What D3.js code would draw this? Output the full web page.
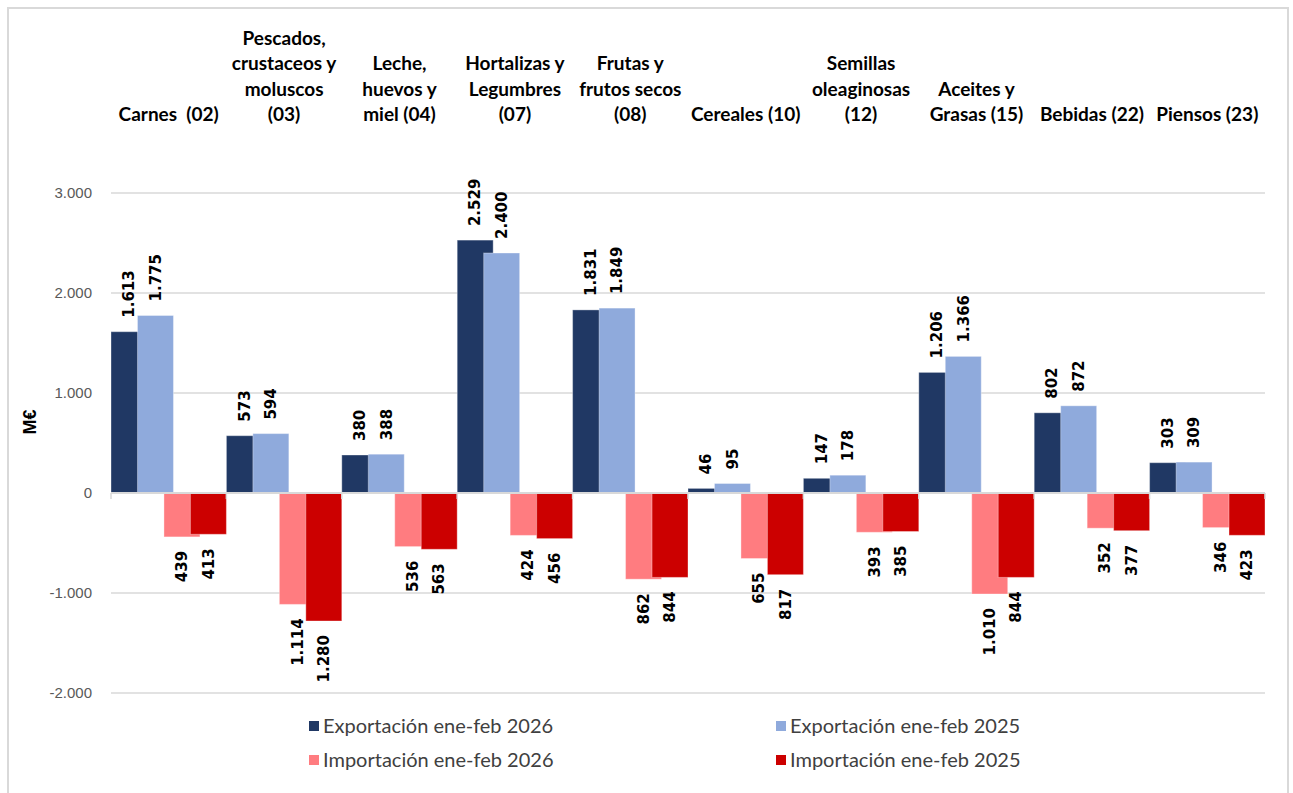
<!DOCTYPE html>
<html>
<head>
<meta charset="utf-8">
<style>
    body { margin: 0; background: #fff; }
    .cat text { font: bold 19px Lato; fill: #000; text-anchor: middle; white-space: pre; }
    .val { font: bold 15px "DejaVu Sans"; fill: #000; }
    .ytick { font: 15px "Liberation Sans"; fill: #595959; text-anchor: end; }
    .legend text { font: 20px Lato; fill: #404040; }
</style>
<script src="https://d3js.org/d3.v7.min.js"></script>
</head>
<body>
<svg width="1293" height="793"></svg>
<script>
    // categories (each one is a list of lines)
    var categories = [
        ["Carnes  (02)"],
        ["Pescados,", "crustaceos y", "moluscos", "(03)"],
        ["Leche,", "huevos y", "miel (04)"],
        ["Hortalizas y", "Legumbres", "(07)"],
        ["Frutas y", "frutos secos", "(08)"],
        ["Cereales (10)"],
        ["Semillas", "oleaginosas", "(12)"],
        ["Aceites y", "Grasas (15)"],
        ["Bebidas (22)"],
        ["Piensos (23)"]
    ];
    var exp2026 = [1613, 573, 380, 2529, 1831, 46, 147, 1206, 802, 303];
    var exp2025 = [1775, 594, 388, 2400, 1849, 95, 178, 1366, 872, 309];
    var imp2026 = [-439, -1114, -536, -424, -862, -655, -393, -1010, -352, -346];
    var imp2025 = [-413, -1280, -563, -456, -844, -817, -385, -844, -377, -423];
    var seriesNames = ["Exportación ene-feb 2026", "Exportación ene-feb 2025",
                       "Importación ene-feb 2026", "Importación ene-feb 2025"];
    var yTicks = [-2000, -1000, 0, 1000, 2000, 3000];

    var series = [exp2026, exp2025, imp2026, imp2025];
    var colors = ["#203864", "#8FAADC", "#FF7C80", "#CC0000"];

    var locale = d3.formatLocale({ decimal: ",", thousands: ".", grouping: [3], currency: ["", "€"], minus: "-" });
    var fmt = locale.format(",d");

    var svg = d3.select("svg");

    // outer chart frame
    svg.append("rect")
        .attr("x", 8).attr("y", 8)
        .attr("width", 1280).attr("height", 800)
        .attr("fill", "none")
        .attr("stroke", "#D9D9D9")
        .attr("stroke-width", 2);

    var x = d3.scaleBand()
        .domain(d3.range(categories.length))
        .range([111, 1265])
        .padding(0);

    var y = d3.scaleLinear()
        .domain([-2000, 3000])
        .range([693, 193]);

    // gridlines
    svg.append("g").selectAll("line")
        .data(yTicks)
        .enter().append("line")
        .attr("x1", 111).attr("x2", 1265)
        .attr("y1", function (d) { return y(d); })
        .attr("y2", function (d) { return y(d); })
        .attr("stroke", "#D9D9D9")
        .attr("stroke-width", 1.5);

    svg.append("g").selectAll("text")
        .data(yTicks)
        .enter().append("text")
        .attr("class", "ytick")
        .attr("x", 92)
        .attr("y", function (d) { return y(d); })
        .attr("dy", "0.35em")
        .text(function (d) { return fmt(d); });

    svg.append("text")
        .attr("transform", "translate(36,422) rotate(-90)")
        .attr("text-anchor", "middle")
        .style("font", "bold 18px 'Liberation Sans'")
        .text("M€");

    // bars: 4 overlapping series per category
    var bw = x.bandwidth();
    var overlapStep = 0.736;
    var barW = bw / (3 * overlapStep + 1);

    series.forEach(function (vals, si) {
        var g = svg.append("g");
        g.selectAll("rect")
            .data(vals)
            .enter().append("rect")
            .attr("x", function (d, i) { return x(i) + si * overlapStep * barW; })
            .attr("y", function (d) { return y(Math.max(d, 0)); })
            .attr("width", barW)
            .attr("height", function (d) { return Math.abs(y(d) - y(0)); })
            .attr("fill", colors[si])
            .attr("stroke", "rgba(255,255,255,0.35)")
            .attr("stroke-width", 1);
    });

    // value labels (rotated)
    series.forEach(function (vals, si) {
        svg.append("g").selectAll("text")
            .data(vals)
            .enter().append("text")
            .attr("class", "val")
            .attr("text-anchor", function (d) { return d >= 0 ? "start" : "end"; })
            .attr("dy", "0.35em")
            .attr("transform", function (d, i) {
                var cx = x(i) + si * overlapStep * barW + barW / 2;
                var cy = d >= 0 ? y(d) - 14 : y(d) + 14;
                return "translate(" + cx + "," + cy + ") rotate(-90)";
            })
            .text(function (d) { return fmt(Math.abs(d)); });
    });

    // zero axis with category tick marks
    svg.append("line")
        .attr("x1", 111).attr("x2", 1265)
        .attr("y1", y(0)).attr("y2", y(0))
        .attr("stroke", "#D9D9D9").attr("stroke-width", 2);
    svg.append("g").selectAll("line")
        .data(d3.range(categories.length + 1))
        .enter().append("line")
        .attr("x1", function (i) { return 111 + i * bw; })
        .attr("x2", function (i) { return 111 + i * bw; })
        .attr("y1", y(0)).attr("y2", y(0) + 6)
        .attr("stroke", "#D9D9D9").attr("stroke-width", 1.5);

    // category labels at the top, bottom aligned
    var cat = svg.append("g").attr("class", "cat");
    categories.forEach(function (lines, i) {
        var t = cat.append("text");
        lines.forEach(function (ln, k) {
            t.append("tspan")
                .attr("x", x(i) + bw / 2)
                .attr("y", 121 - (lines.length - 1 - k) * 25.5)
                .text(ln);
        });
    });

    // legend
    var legPos = [[309, 726], [776, 726], [309, 760], [776, 760]];
    var leg = svg.append("g").attr("class", "legend");
    seriesNames.forEach(function (name, i) {
        leg.append("rect")
            .attr("x", legPos[i][0]).attr("y", legPos[i][1] - 5)
            .attr("width", 10).attr("height", 10)
            .attr("fill", colors[i]);
        leg.append("text")
            .attr("x", legPos[i][0] + 14)
            .attr("y", legPos[i][1])
            .attr("dy", "0.35em")
            .text(name);
    });
</script>
</body>
</html>
